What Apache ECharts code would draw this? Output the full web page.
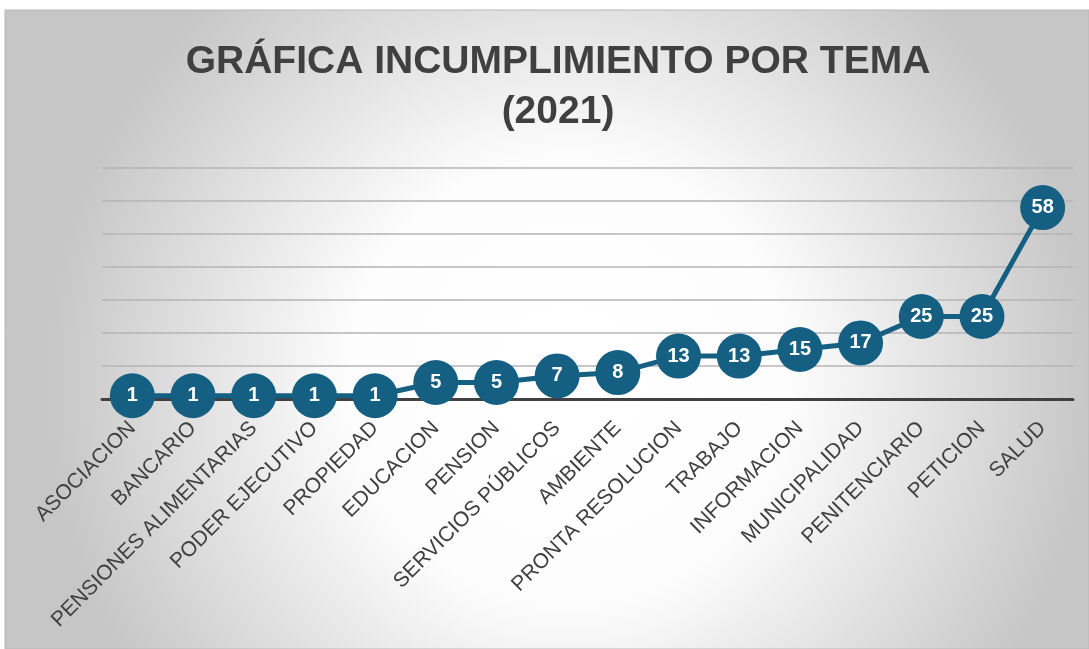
<!DOCTYPE html>
<html>
<head>
<meta charset="utf-8">
<script src="https://cdn.jsdelivr.net/npm/echarts@6/dist/echarts.min.js"></script>
<style>
  html, body { margin: 0; padding: 0; background: #fff; }
  #main { width: 1089px; height: 649px; }
</style>
</head>
<body>
<div id="main"></div>
<script>
var temas = ['ASOCIACION', 'BANCARIO', 'PENSIONES ALIMENTARIAS', 'PODER EJECUTIVO', 'PROPIEDAD',
  'EDUCACION', 'PENSION', 'SERVICIOS PÚBLICOS', 'AMBIENTE', 'PRONTA RESOLUCION', 'TRABAJO',
  'INFORMACION', 'MUNICIPALIDAD', 'PENITENCIARIO', 'PETICION', 'SALUD'];
var incumplimientos = [1, 1, 1, 1, 1, 5, 5, 7, 8, 13, 13, 15, 17, 25, 25, 58];
var titulo = 'GRÁFICA INCUMPLIMIENTO POR TEMA\n(2021)';

var chart = echarts.init(document.getElementById('main'));

var option = {
  backgroundColor: '#ffffff',
  graphic: [{
    type: 'rect',
    z: -10,
    silent: true,
    shape: { x: 5, y: 10, width: 1084, height: 639 },
    style: {
      fill: {
        type: 'radial', x: 0.52, y: 0.58, r: 0.82,
        colorStops: [
          { offset: 0, color: '#ffffff' },
          { offset: 0.42, color: '#fdfdfd' },
          { offset: 1, color: '#c6c6c6' }
        ]
      },
      stroke: '#b8b8b8',
      lineWidth: 1
    }
  }],
  title: {
    text: titulo,
    left: 553,
    textAlign: 'center',
    top: 32,
    textStyle: {
      fontFamily: 'Liberation Sans',
      fontWeight: 'bold',
      fontSize: 39,
      lineHeight: 50,
      color: '#404040'
    }
  },
  grid: {
    left: 102,
    right: 16,
    top: 168,
    bottom: 250,
    containLabel: false
  },
  xAxis: {
    type: 'category',
    data: temas,
    boundaryGap: true,
    axisLine: { show: true, lineStyle: { color: '#404040', width: 3 } },
    axisTick: { show: false },
    axisLabel: {
      interval: 0,
      rotate: 45,
      margin: 26,
      fontFamily: 'Liberation Sans',
      fontSize: 21,
      color: '#404040'
    }
  },
  yAxis: {
    type: 'value',
    min: 0,
    max: 70,
    interval: 10,
    axisLine: { show: false },
    axisTick: { show: false },
    axisLabel: { show: false },
    splitLine: { lineStyle: { color: '#b4b4b4', width: 1.5 } }
  },
  series: [{
    name: 'Incumplimiento',
    type: 'line',
    data: incumplimientos,
    symbol: 'circle',
    symbolSize: 45,
    lineStyle: { color: '#156082', width: 5 },
    itemStyle: { color: '#156082' },
    label: {
      show: true,
      position: 'inside',
      fontFamily: 'Liberation Sans',
      fontWeight: 'bold',
      fontSize: 20,
      color: '#ffffff'
    },
    z: 5
  }]
};

chart.setOption(option);
</script>
</body>
</html>
